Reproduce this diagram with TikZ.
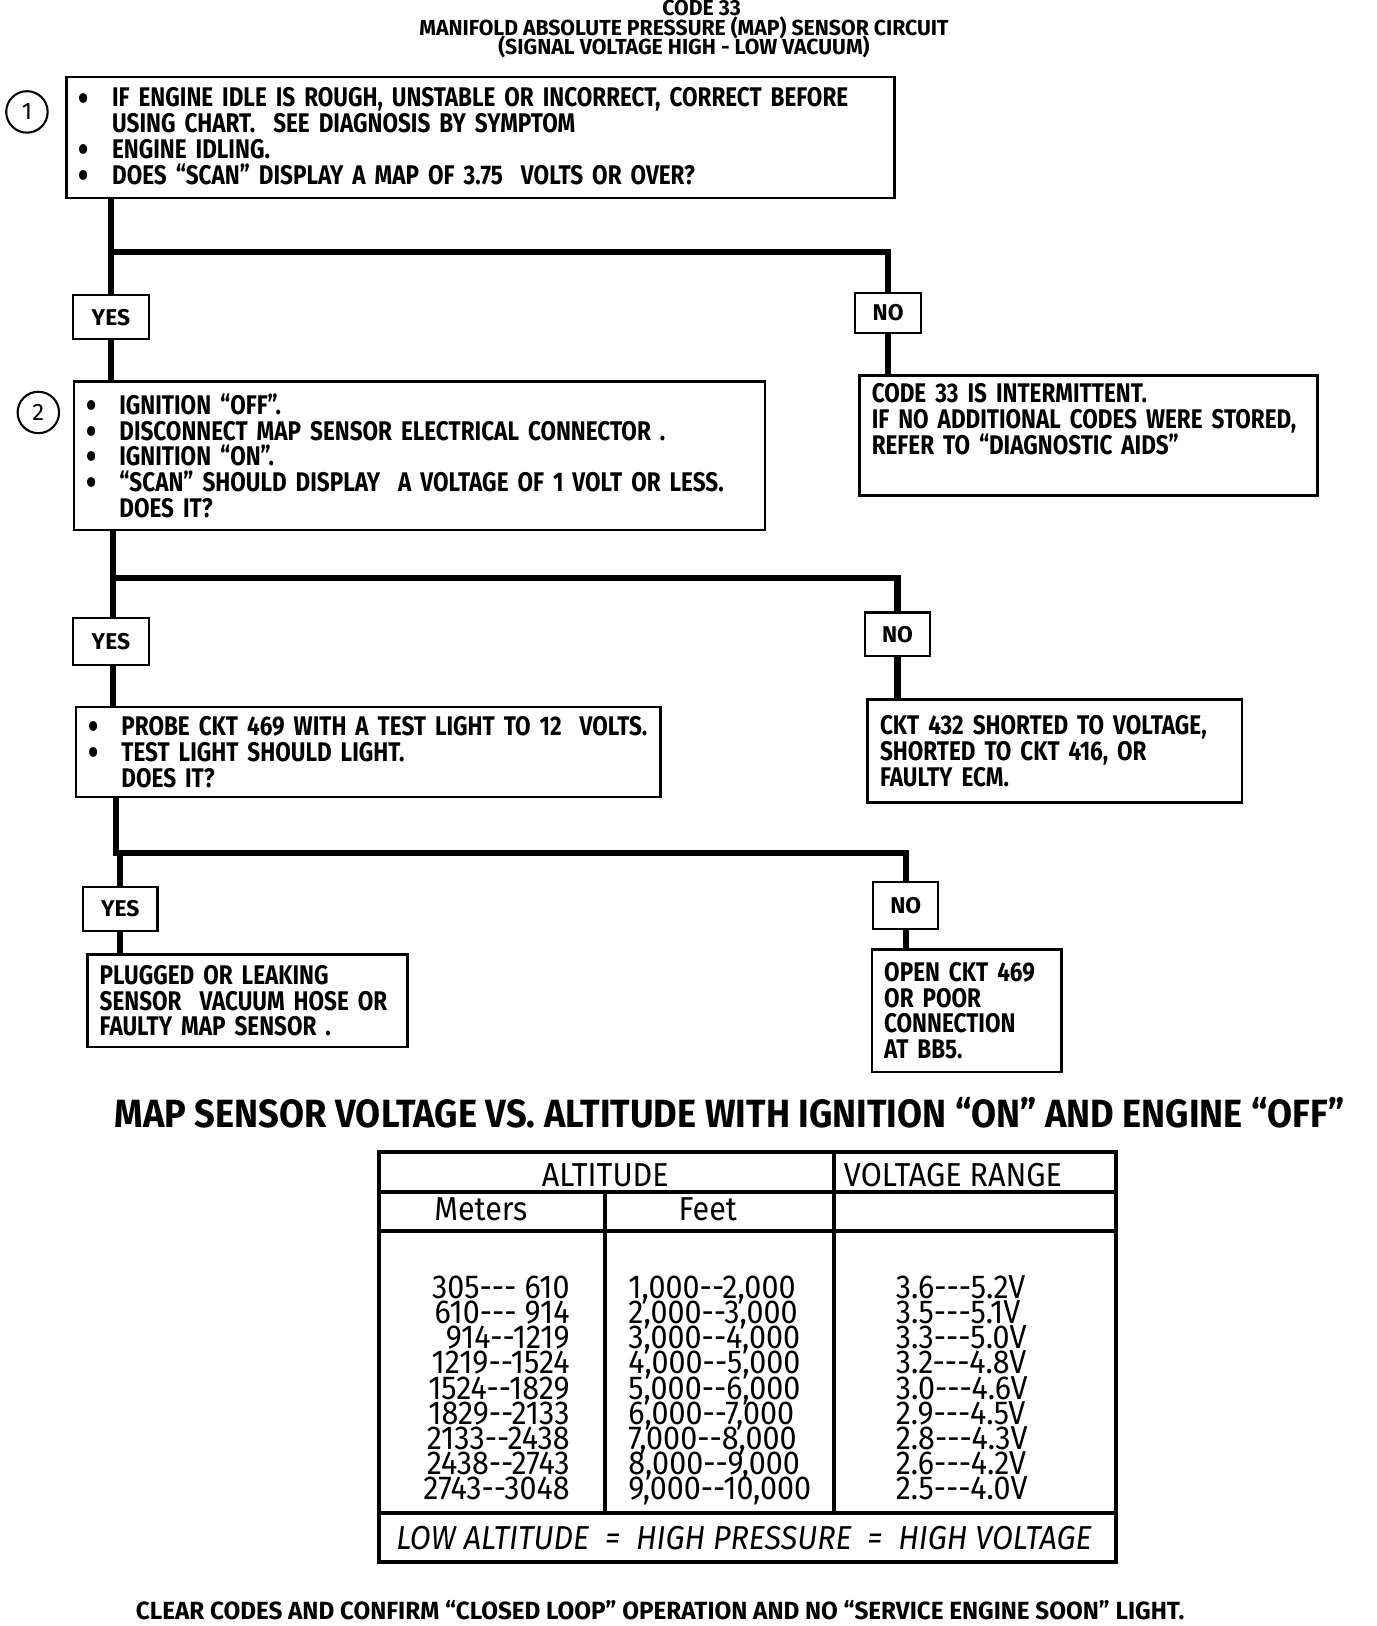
\documentclass[tikz,border=0pt]{standalone}
\usepackage{fontspec}
\usepackage{tikz}

\newfontfamily\boxfont[FakeStretch=0.835]{Fira Sans}
\newfontfamily\labelfont{Fira Sans}
\newfontfamily\titlefont[FakeStretch=0.975]{Fira Sans}
\newfontfamily\headfont[FakeStretch=0.92]{Fira Sans}
\newfontfamily\tabfont[FakeStretch=0.92,Ligatures=TeXOff]{Fira Sans}

\newcommand{\bitem}{\makebox[16pt][l]{\raisebox{-1.5pt}{\smash{\fontsize{17}{12}\selectfont\textbullet}}}}
\newcommand{\bgap}{\hspace*{16pt}}

\begin{document}
\begin{tikzpicture}[x=0.5pt,y=-0.5pt]

%
% Styles
%
\tikzstyle{stepbox}   = [draw,line width=1.2pt,anchor=north west,inner xsep=6pt,inner ysep=0pt,align=left,
                         font=\fontsize{13}{12.4}\selectfont\boxfont\bfseries]
\tikzstyle{answer}    = [draw,line width=1pt,inner sep=0pt,minimum height=21pt,
                         font=\fontsize{11}{12}\selectfont\labelfont\bfseries]
\tikzstyle{trunk}     = [line width=3pt]
\tikzstyle{number}    = [circle,draw,line width=1pt,minimum size=20pt,inner sep=0pt,
                         font=\fontsize{11.5}{12}\selectfont\labelfont]
\tikzstyle{titleline} = [anchor=base,inner sep=0pt,text height=7.5pt,text depth=1pt,
                         font=\fontsize{10.5}{10}\selectfont\titlefont\bfseries]
\tikzstyle{grid}      = [line width=1.8pt]
\tikzstyle{cell}      = [inner sep=0pt,font=\fontsize{16}{16}\selectfont\tabfont]
\tikzstyle{entry}     = [cell,text height=10pt,text depth=1pt]

\useasboundingbox (0,0) rectangle (1328,1569);

% title
\node[titleline] (code) at (677,15) {CODE 33};
\node[titleline] (circuit) at (660,34) {MANIFOLD ABSOLUTE PRESSURE (MAP) SENSOR CIRCUIT};
\node[titleline] (signal) at (660,53) {(SIGNAL VOLTAGE HIGH - LOW VACUUM)};

% step 1
\node[number] (n1) at (26,108) {1};
\node[stepbox,minimum width=399.5pt,text width=387.5pt,minimum height=58.5pt] (box1) at (63,73)
  {\bitem IF ENGINE IDLE IS ROUGH, UNSTABLE OR INCORRECT, CORRECT BEFORE\\
   \bgap USING CHART.\ \ SEE DIAGNOSIS BY SYMPTOM\\
   \bitem ENGINE IDLING.\\
   \bitem DOES “SCAN” DISPLAY A MAP OF 3.75\ \ VOLTS OR OVER?};

\node[answer,minimum width=36.5pt] (yes1) at (107,306) {YES};
\node[answer,minimum width=32pt,minimum height=19.5pt] (no1) at (857,302) {NO};
\coordinate (split1) at (107,243);

\draw[trunk] (box1.south -| yes1) -- (yes1.north);
\draw[trunk] (split1) -| (no1.north);

% step 2
\node[number] (n2) at (37,398) {2};
\node[stepbox,minimum width=333.5pt,text width=321.5pt,minimum height=71.5pt] (box2) at (70,367)
  {\bitem IGNITION “OFF”.\\
   \bitem DISCONNECT MAP SENSOR ELECTRICAL CONNECTOR .\\
   \bitem IGNITION “ON”.\\
   \bitem “SCAN” SHOULD DISPLAY\ \ A VOLTAGE OF 1 VOLT OR LESS.\\
   \bgap DOES IT?};
\node[stepbox,minimum width=221pt,text width=209pt,minimum height=58pt] (box3) at (828,361)
  {CODE 33 IS INTERMITTENT.\\
   IF NO ADDITIONAL CODES WERE STORED,\\
   REFER TO “DIAGNOSTIC AIDS”\\
   \strut};

\draw[trunk] (yes1.south) -- (yes1.south |- box2.north);
\draw[trunk] (no1.south) -- (no1.south |- box3.north);

\node[answer,minimum width=36.5pt,minimum height=22.5pt] (yes2) at (107,619) {YES};
\node[answer,minimum width=31.5pt] (no2) at (866,612) {NO};
\coordinate (split2) at (109,558);

\draw[trunk] (box2.south -| split2) -- (split2 |- yes2.north);
\draw[trunk] (split2) -| (no2.north);

% step 3
\node[stepbox,minimum width=282pt,text width=270pt,minimum height=43.5pt] (box4) at (72,681)
  {\bitem PROBE CKT 469 WITH A TEST LIGHT TO 12\ \ VOLTS.\\
   \bitem TEST LIGHT SHOULD LIGHT.\\
   \bgap DOES IT?};
\node[stepbox,minimum width=180.5pt,text width=168.5pt,minimum height=49.5pt] (box5) at (836,674)
  {CKT 432 SHORTED TO VOLTAGE,\\
   SHORTED TO CKT 416, OR\\
   FAULTY ECM.};

\draw[trunk] (yes2.south -| split2) -- (split2 |- box4.north);
\draw[trunk] (no2.south) -- (no2.south |- box5.north);

\node[answer,minimum width=36pt,minimum height=21.5pt] (yes3) at (116,877) {YES};
\node[answer,minimum width=31.5pt,minimum height=22.5pt] (no3) at (874,874) {NO};
\coordinate (split3) at (112,823);

\draw[trunk] (box4.south -| split3) -- (split3) -| (yes3.north);
\draw[trunk] (split3) -| (no3.north);

% results
\node[stepbox,minimum width=154.5pt,text width=142.5pt,minimum height=44.5pt] (box6) at (83,920)
  {PLUGGED OR LEAKING\\
   SENSOR\ \ VACUUM HOSE OR\\
   FAULTY MAP SENSOR .};
\node[stepbox,minimum width=91.5pt,text width=79.5pt,minimum height=59pt] (box7) at (840,915)
  {OPEN CKT 469\\
   OR POOR\\
   CONNECTION\\
   AT BB5.};

\draw[trunk] (yes3.south) -- (yes3.south |- box6.north);
\draw[trunk] (no3.south) -- (no3.south |- box7.north);

% table
\node[anchor=base,font=\fontsize{19}{19}\selectfont\headfont\bfseries] (heading) at (704,1088)
  {MAP SENSOR VOLTAGE VS. ALTITUDE WITH IGNITION “ON” AND ENGINE “OFF”};

\draw[line width=2pt] (366,1112) rectangle (1077,1507);
\draw[grid] (366,1150) -- (1077,1150);
\draw[grid] (366,1188) -- (1077,1188);
\draw[grid] (366,1460) -- (1077,1460);
\draw[grid] (805,1112) -- (805,1460);
\draw[grid] (584,1150) -- (584,1460);

\node[cell,anchor=base] (altitude) at (584,1145) {ALTITUDE};
\node[cell,anchor=base west] (range) at (814,1145) {VOLTAGE RANGE};
\node[cell,anchor=base] (meters) at (464,1178) {Meters};
\node[cell,anchor=base] (feet) at (683,1178) {Feet};

\foreach \m [count=\i] in {305--- 610,610--- 914,914--1219,1219--1524,1524--1829,1829--2133,2133--2438,2438--2743,2743--3048}
  \node[entry,anchor=base east] (m\i) at (550,1253+24.25*\i-24.25) {\m};
\foreach \f [count=\i] in {{1,000--2,000},{2,000--3,000},{3,000--4,000},{4,000--5,000},{5,000--6,000},{6,000--7,000},{7,000--8,000},{8,000--9,000},{9,000--10,000}}
  \node[entry,anchor=base west] (f\i) at (606,1253+24.25*\i-24.25) {\f};
\foreach \v [count=\i] in {3.6---5.2V,3.5---5.1V,3.3---5.0V,3.2---4.8V,3.0---4.6V,2.9---4.5V,2.8---4.3V,2.6---4.2V,2.5---4.0V}
  \node[entry,anchor=base west] (v\i) at (864,1253+24.25*\i-24.25) {\v};

\node[cell,anchor=base west,font=\fontsize{16}{16}\selectfont\tabfont\itshape] (rule) at (382,1495)
  {LOW ALTITUDE\ \ =\ \ HIGH PRESSURE\ \ =\ \ HIGH VOLTAGE};

\node[anchor=base,font=\fontsize{12}{12}\selectfont\titlefont\bfseries] (clear) at (637,1563)
  {CLEAR CODES AND CONFIRM “CLOSED LOOP” OPERATION AND NO “SERVICE ENGINE SOON” LIGHT.};

\end{tikzpicture}
\end{document}
